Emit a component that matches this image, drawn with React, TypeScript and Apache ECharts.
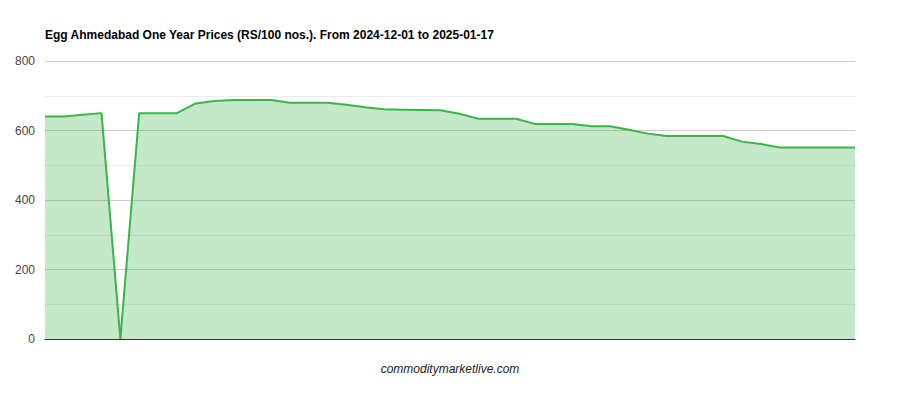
import React, { useEffect, useRef } from "react";
import * as echarts from "echarts";

const TITLE = "Egg Ahmedabad One Year Prices (RS/100 nos.). From 2024-12-01 to 2025-01-17";
const CAPTION = "commoditymarketlive.com";

const dates: string[] = [
  "2024-12-01", "2024-12-02", "2024-12-03", "2024-12-04", "2024-12-05", "2024-12-06",
  "2024-12-07", "2024-12-09", "2024-12-10", "2024-12-11", "2024-12-12", "2024-12-13",
  "2024-12-14", "2024-12-16", "2024-12-17", "2024-12-18", "2024-12-19", "2024-12-20",
  "2024-12-21", "2024-12-23", "2024-12-24", "2024-12-25", "2024-12-26", "2024-12-27",
  "2024-12-28", "2024-12-29", "2024-12-30", "2024-12-31", "2025-01-01", "2025-01-02",
  "2025-01-03", "2025-01-04", "2025-01-06", "2025-01-07", "2025-01-08", "2025-01-09",
  "2025-01-10", "2025-01-11", "2025-01-12", "2025-01-13", "2025-01-14", "2025-01-15",
  "2025-01-16", "2025-01-17",
];

const prices: number[] = [
  640, 640, 645, 650, 0, 650, 650, 650, 678, 685, 688, 688, 688, 680, 680, 680,
  674, 667, 661, 660, 659, 658, 648, 634, 634, 634, 619, 619, 619, 612, 612, 602,
  591, 584, 584, 584, 584, 568, 561, 551, 551, 551, 551, 551,
];

const yTicks = { min: 0, max: 800, interval: 200 };

export default function App() {
  const ref = useRef<HTMLDivElement>(null);
  useEffect(() => {
    if (!ref.current) return;
    const chart = echarts.init(ref.current, undefined, { renderer: "svg" });
    chart.setOption({
      animation: false,
      backgroundColor: "#ffffff",
      title: {
        text: TITLE,
        left: 45,
        top: 29,
        padding: 0,
        textStyle: { fontFamily: "Liberation Sans, Arial", fontSize: 12, fontWeight: "bold", color: "#000" },
      },
      graphic: [
        {
          type: "text",
          left: "center",
          top: 363,
          style: {
            text: CAPTION,
            font: "italic 12px 'Liberation Sans', Arial",
            fill: "#222",
          },
        },
      ],
      grid: { left: 45, right: 45, top: 61, bottom: 61, containLabel: false },
      xAxis: {
        type: "category",
        data: dates,
        boundaryGap: false,
        axisLine: { show: true, lineStyle: { color: "#333", width: 1 } },
        axisTick: { show: false },
        axisLabel: { show: false },
        splitLine: { show: false },
      },
      yAxis: {
        type: "value",
        min: yTicks.min,
        max: yTicks.max,
        interval: yTicks.interval,
        axisLine: { show: false },
        axisTick: { show: false },
        axisLabel: {
          color: "#444",
          fontFamily: "Liberation Sans, Arial",
          fontSize: 12,
          margin: 10,
        },
        splitLine: { show: true, lineStyle: { color: "#cccccc", width: 1 } },
        minorTick: { show: false, splitNumber: 2 },
        minorSplitLine: { show: true, lineStyle: { color: "#ebebeb", width: 1 } },
      },
      series: [
        {
          type: "line",
          data: prices,
          symbol: "none",
          lineStyle: { color: "#3bb44a", width: 2 },
          itemStyle: { color: "#3bb44a" },
          areaStyle: { color: "#3bb44a", opacity: 0.3 },
        },
      ],
    });
    return () => chart.dispose();
  }, []);
  return (
    <div
      ref={ref}
      style={{ position: "fixed", left: 0, top: 0, width: 900, height: 400 }}
    />
  );
}
